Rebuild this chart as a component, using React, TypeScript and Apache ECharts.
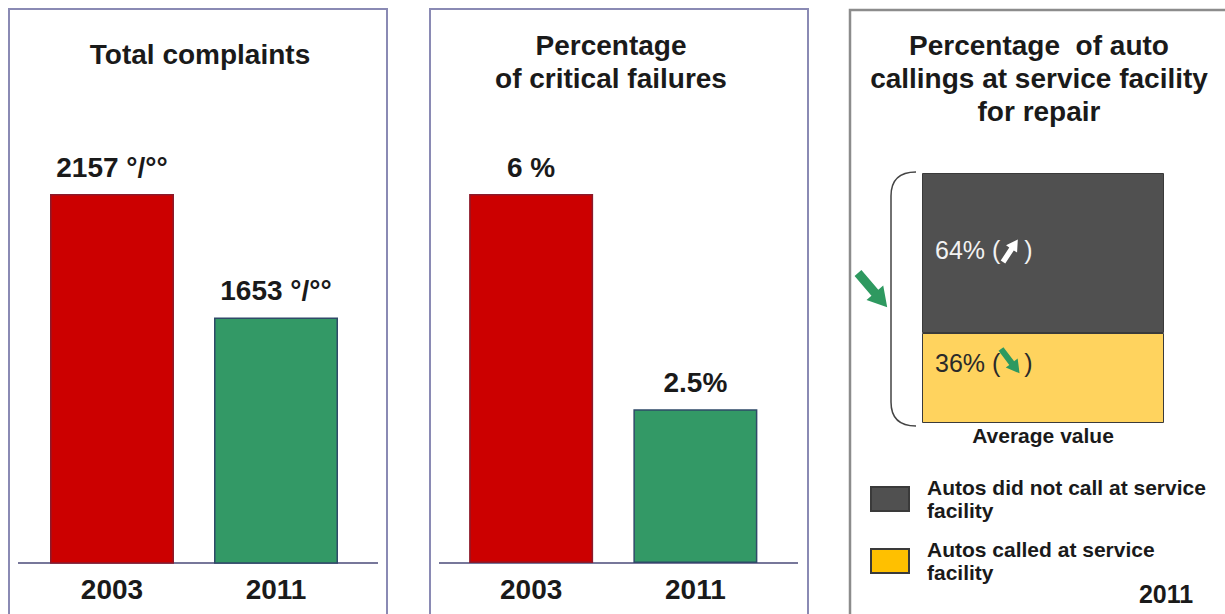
import React, { useEffect, useRef } from "react";
import * as echarts from "echarts";

// Panel 1: total complaints per year (per mille)
const complaintYears = ["2003", "2011"];
const complaintValues = [2157, 1653];
const complaintUnits = [" °/°°", " °/°°"];

// Panel 2: share of critical failures per year (%)
const failureYears = ["2003", "2011"];
const failureValues = [6, 2.5];
const failureUnits = [" %", "%"];

// Panel 3: share of autos calling at a service facility, 2011 (%)
const serviceCategories = ["Average value"];
const seriesNames = [
  "Autos did not call at service facility",
  "Autos called at service facility",
];
const notCalledShare = [64];
const calledShare = [36];

const panelTitles = [
  "Total complaints",
  "Percentage\nof critical failures",
  "Percentage  of auto\ncallings at service facility\nfor repair",
];
const yearNote = "2011";

const FONT = '"Liberation Sans", Arial, Helvetica, sans-serif';
const TEXT = "#1a1a1a";
const yearColors = ["#CC0000", "#339966"];
const yearBorders = ["#8B1A2B", "#2F4A68"];
const DARK = "#505050";
const YELLOW = "#FFD35E";
const GREEN = "#2E9960";

// Outline shapes used as decorations: a rounded bracket and a block arrow
// pointing along +x with its tail centred on the origin.
const BRACE_D = "M25 0 C8 0 0 8 0 24 L0 230 C0 246 8 254 25 254";
const ARROW_D = "M0 -4.5 L26 -4.5 L26 -11 L45 0 L26 11 L26 4.5 L0 4.5 Z";
echarts.graphic.registerShape("brace", echarts.graphic.extendPath(BRACE_D, {}));
echarts.graphic.registerShape("trendArrow", echarts.graphic.extendPath(ARROW_D, {}));

const wrapLegend = (name: string) => name.replace(/ facility$/, "\nfacility");

// share label with room left inside the brackets for the trend arrow
const shareLabel = (color: string, dy: number) => ({
  show: true,
  position: "insideLeft" as const,
  distance: 13,
  offset: [0, dy],
  formatter: (p: any) => `{v|${p.value}% (}{gap| }{v|)}`,
  rich: {
    v: { fontSize: 25, fontFamily: FONT, color },
    gap: { width: 24, fontSize: 25, fontFamily: FONT },
  },
});

export default function App() {
  const ref = useRef<HTMLDivElement>(null);

  useEffect(() => {
    if (!ref.current) return;
    const chart = echarts.init(ref.current, undefined, { renderer: "svg" });

    const valueLabel = {
      show: true,
      position: "top" as const,
      distance: 13,
      fontSize: 28,
      fontWeight: "bold" as const,
      fontFamily: FONT,
      color: TEXT,
    };
    const yearAxisLabel = {
      fontSize: 28,
      fontWeight: "bold" as const,
      fontFamily: FONT,
      color: TEXT,
      margin: 12,
    };

    chart.setOption({
      animation: false,
      backgroundColor: "#ffffff",
      grid: [
        { left: 30, top: 194, width: 328, height: 369 },
        { left: 449, top: 194, width: 328.5, height: 369 },
        { left: 922, top: 173, width: 242, height: 250 },
      ],
      xAxis: [
        {
          type: "category",
          gridIndex: 0,
          data: complaintYears,
          axisLine: { show: false },
          axisTick: { show: false },
          axisLabel: yearAxisLabel,
        },
        {
          type: "category",
          gridIndex: 1,
          data: failureYears,
          axisLine: { show: false },
          axisTick: { show: false },
          axisLabel: yearAxisLabel,
        },
        {
          type: "category",
          gridIndex: 2,
          data: serviceCategories,
          axisLine: { show: false },
          axisTick: { show: false },
          axisLabel: {
            fontSize: 21,
            fontWeight: "bold",
            fontFamily: FONT,
            color: TEXT,
            margin: 2,
          },
        },
      ],
      yAxis: [
        { type: "value", gridIndex: 0, min: 650, max: 2157, show: false },
        { type: "value", gridIndex: 1, min: 0, max: 6, show: false },
        { type: "value", gridIndex: 2, min: 0, max: 100, show: false },
      ],
      legend: {
        data: [
          { name: seriesNames[0], itemStyle: { color: DARK } },
          { name: seriesNames[1], itemStyle: { color: "#FFC000" } },
        ],
        orient: "vertical",
        left: 870,
        top: 476,
        itemWidth: 38,
        itemHeight: 24,
        itemGap: 16,
        padding: 0,
        icon: "rect",
        selectedMode: false,
        formatter: wrapLegend,
        textStyle: {
          fontSize: 21,
          fontWeight: "bold",
          fontFamily: FONT,
          color: TEXT,
          lineHeight: 23,
          padding: [0, 0, 0, 13],
        },
      },
      series: [
        {
          type: "bar",
          xAxisIndex: 0,
          yAxisIndex: 0,
          barWidth: 124,
          data: complaintValues.map((v, i) => ({
            value: v,
            itemStyle: { color: yearColors[i], borderColor: yearBorders[i], borderWidth: 1.5 },
          })),
          label: {
            ...valueLabel,
            formatter: (p: any) =>
              `${complaintValues[p.dataIndex]}${complaintUnits[p.dataIndex]}`,
          },
        },
        {
          type: "bar",
          xAxisIndex: 1,
          yAxisIndex: 1,
          barWidth: 124,
          data: failureValues.map((v, i) => ({
            value: v,
            itemStyle: { color: yearColors[i], borderColor: yearBorders[i], borderWidth: 1.5 },
          })),
          label: {
            ...valueLabel,
            formatter: (p: any) =>
              `${failureValues[p.dataIndex]}${failureUnits[p.dataIndex]}`,
          },
        },
        {
          name: seriesNames[1],
          type: "bar",
          stack: "share",
          xAxisIndex: 2,
          yAxisIndex: 2,
          barWidth: "100%",
          data: calledShare,
          itemStyle: { color: YELLOW, borderColor: "#3a3a3a", borderWidth: 1 },
          label: shareLabel("#2a2a2a", -15),
        },
        {
          name: seriesNames[0],
          type: "bar",
          stack: "share",
          xAxisIndex: 2,
          yAxisIndex: 2,
          barWidth: "100%",
          data: notCalledShare,
          itemStyle: { color: DARK, borderColor: "#3a3a3a", borderWidth: 1 },
          label: shareLabel("#f2f2f2", -3),
        },
      ],
      graphic: [
        // panel frames
        {
          type: "rect",
          z: 0,
          shape: { x: 9, y: 9, width: 378, height: 620 },
          style: { fill: "none", stroke: "#8A8AB4", lineWidth: 2 },
        },
        {
          type: "rect",
          z: 0,
          shape: { x: 430, y: 9, width: 378, height: 620 },
          style: { fill: "none", stroke: "#8A8AB4", lineWidth: 2 },
        },
        {
          type: "rect",
          z: 0,
          shape: { x: 850, y: 10, width: 400, height: 620 },
          style: { fill: "none", stroke: "#8C8C8C", lineWidth: 2.5 },
        },
        // baselines under the year bars
        {
          type: "line",
          shape: { x1: 18, y1: 563, x2: 378, y2: 563 },
          style: { stroke: "#4A4A78", lineWidth: 1.5 },
        },
        {
          type: "line",
          shape: { x1: 439, y1: 563, x2: 798, y2: 563 },
          style: { stroke: "#4A4A78", lineWidth: 1.5 },
        },
        // panel titles
        ...panelTitles.map((t, i) => ({
          type: "text",
          x: [200, 611, 1039][i],
          y: [38, 29, 29][i],
          style: {
            text: t,
            fill: TEXT,
            fontSize: 28,
            fontWeight: "bold",
            fontFamily: FONT,
            align: "center",
            verticalAlign: "top",
            lineHeight: 33,
          },
        })),
        // bracket and overall trend arrow beside the stacked bar
        {
          type: "brace",
          x: 891,
          y: 172,
          style: { fill: "none", stroke: "#444444", lineWidth: 1.5 },
        },
        {
          type: "trendArrow",
          x: 858,
          y: 273,
          rotation: -0.864,
          style: { fill: GREEN, stroke: "none" },
        },
        // trend arrows inside the share labels
        {
          type: "trendArrow",
          z: 10,
          x: 1003,
          y: 262,
          rotation: 0.99,
          scaleX: 0.6,
          scaleY: 0.6,
          style: { fill: "#ffffff", stroke: "none" },
        },
        {
          type: "trendArrow",
          z: 10,
          x: 1001,
          y: 349,
          rotation: -0.92,
          scaleX: 0.68,
          scaleY: 0.68,
          style: { fill: GREEN, stroke: "none" },
        },
        {
          type: "text",
          x: 1166,
          y: 594,
          style: {
            text: yearNote,
            fill: TEXT,
            fontSize: 25,
            fontWeight: "bold",
            fontFamily: FONT,
            align: "center",
            verticalAlign: "middle",
          },
        },
      ],
    });

    return () => chart.dispose();
  }, []);

  return (
    <div
      ref={ref}
      style={{ position: "fixed", left: 0, top: 0, width: 1225, height: 614, background: "#fff" }}
    />
  );
}
